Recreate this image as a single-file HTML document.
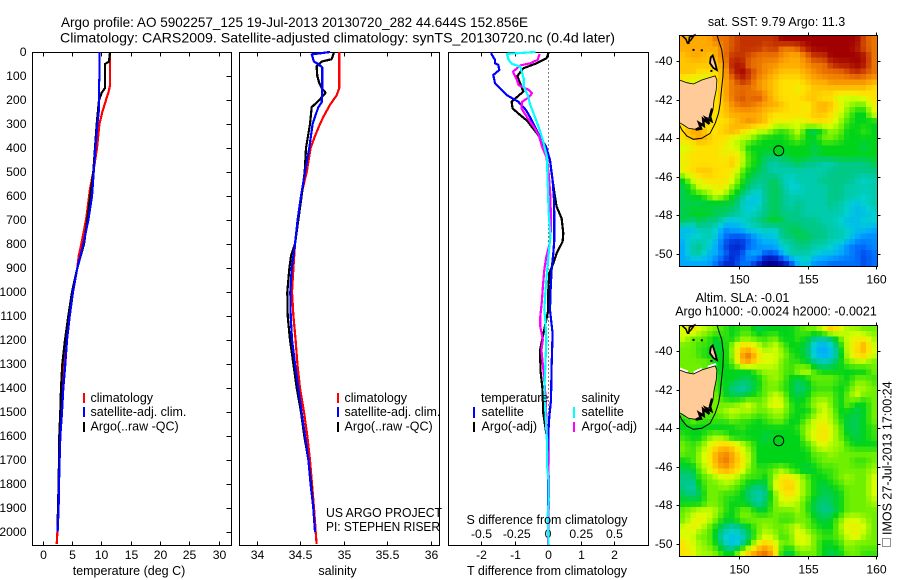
<!DOCTYPE html>
<html>
<head>
<meta charset="utf-8">
<title>Argo profile</title>
<style>
html,body{margin:0;padding:0;background:#fff}
svg{display:block}
text{font-family:"Liberation Sans",Arial,sans-serif;font-size:12.5px;fill:#000}
.t{font-size:14px}
.n{font-size:12.2px}
.c{shape-rendering:crispEdges}
</style>
</head>
<body>
<svg id="fig" xmlns="http://www.w3.org/2000/svg" width="900" height="580" viewBox="0 0 900 580">
<rect x="0" y="0" width="900" height="580" fill="#fff"/>
<text class="t" x="61" y="27" textLength="467" lengthAdjust="spacingAndGlyphs">Argo profile: AO 5902257_125 19-Jul-2013 20130720_282 44.644S 152.856E</text>
<text class="t" x="60" y="42.5" textLength="555" lengthAdjust="spacingAndGlyphs">Climatology: CARS2009. Satellite-adjusted climatology: synTS_20130720.nc (0.4d later)</text>
<g id="heat1"></g>
<g id="heat2"></g>
<g id="land"></g>
<g id="axes"></g>
<g id="lines"></g>
<g>
<text x="90.5" y="402">climatology</text>
<text x="90.5" y="416">satellite-adj. clim.</text>
<text x="90.5" y="430.5">Argo(..raw -QC)</text>
<rect class="c" x="83" y="393" width="2" height="10" fill="#f00"/>
<rect class="c" x="83" y="407" width="2" height="10" fill="#00f"/>
<rect class="c" x="83" y="422" width="2" height="10" fill="#000"/>
</g>
<g>
<text x="344.5" y="402">climatology</text>
<text x="344.5" y="416">satellite-adj. clim.</text>
<text x="344.5" y="430.5">Argo(..raw -QC)</text>
<rect class="c" x="337" y="393" width="2" height="10" fill="#f00"/>
<rect class="c" x="337" y="407" width="2" height="10" fill="#00f"/>
<rect class="c" x="337" y="422" width="2" height="10" fill="#000"/>
<text x="326" y="517" textLength="116" lengthAdjust="spacingAndGlyphs">US ARGO PROJECT</text>
<text x="326" y="531" textLength="114" lengthAdjust="spacingAndGlyphs">PI: STEPHEN RISER</text>
</g>
<g>
<text x="481" y="402">temperature</text>
<text x="481.5" y="416">satellite</text>
<text x="481.5" y="430.5">Argo(-adj)</text>
<text x="581.5" y="402">salinity</text>
<text x="581.5" y="416">satellite</text>
<text x="581.5" y="430.5">Argo(-adj)</text>
<rect class="c" x="473" y="407" width="2" height="11" fill="#00f"/>
<rect class="c" x="473" y="422" width="2" height="10" fill="#000"/>
<rect class="c" x="573" y="407" width="2" height="11" fill="#0ff"/>
<rect class="c" x="573" y="422" width="2" height="10" fill="#f0f"/>
</g>
<text x="129" y="575" text-anchor="middle">temperature (deg C)</text>
<text x="337.5" y="575" text-anchor="middle">salinity</text>
<text x="547" y="575" text-anchor="middle">T difference from climatology</text>
<text x="547" y="524" text-anchor="middle">S difference from climatology</text>
<text x="776.5" y="26" text-anchor="middle">sat. SST: 9.79 Argo: 11.3</text>
<text x="742.5" y="302" text-anchor="middle">Altim. SLA: -0.01</text>
<text x="776" y="315.5" text-anchor="middle">Argo h1000: -0.0024 h2000: -0.0021</text>
<text transform="translate(891.5,535) rotate(-90)">IMOS 27-Jul-2013 17:00:24</text>
<rect x="882.5" y="538.5" width="8" height="8" fill="none" stroke="#222" stroke-dasharray="1 1"/>
</svg>
<script>
// ---------- chart data ----------
const depthTicks = [0,100,200,300,400,500,600,700,800,900,1000,1100,1200,1300,1400,1500,1600,1700,1800,1900,2000];
const tempTicks = [0,5,10,15,20,25,30];
const salTicks = [34,34.5,35,35.5,36];
const salTickLabels = ['34','34.5','35','35.5','36'];
const tDiffTicks = [-2,-1,0,1,2];
const sDiffTickLabels = ['-0.5','-0.25','0','0.25','0.5'];
const sDiffTicks = [-0.5,-0.235,0,0.25,0.5];
const lonTicks = [150,155,160];
const latTicks = [-40,-42,-44,-46,-48,-50];

const climTempDepth = [0,50,100,140,170,200,250,300,400,500,570,650,700,800,850,900,1000,1100,1200,1300,1400,1500,1600,1700,1800,1900,2000,2050];
const climTemp = [11.39,11.39,11.39,11.39,11.1,10.7,10.08,9.57,9.17,8.54,7.97,7.57,7.29,6.49,6.04,5.81,5.01,4.39,3.87,3.42,3.19,2.96,2.85,2.68,2.62,2.51,2.4,2.28];
const argoTempDepth = [0,40,50,100,150,170,200,300,400,500,700,800,900,1000,1100,1200,1300,1400,1500,1600,1700,1800,1900,2000];
const argoTemp = [11.39,11.22,10.54,10.54,10.54,9.97,9.51,9.11,8.83,8.54,7.52,6.95,5.81,4.9,4.27,3.7,3.25,3.02,2.91,2.74,2.68,2.62,2.51,2.4];
const satTempDepth = [0,100,130,240,300,400,500,600,700,800,900,1000,1100,1200,1300,1400,1500,1600,1700,1800,1900,2000];
const satTemp = [9.62,9.62,9.51,9.51,9.23,8.89,8.6,8.32,7.69,6.84,5.81,5.07,4.5,4.05,3.76,3.42,3.19,2.91,2.79,2.68,2.62,2.45];

const climSalDepth = [0,150,180,220,270,300,350,400,500,570,700,800,900,1000,1100,1200,1300,1400,1500,1600,1700,1800,1900,2000,2050];
const climSal = [34.944,34.944,34.914,34.837,34.761,34.722,34.665,34.615,34.57,34.524,34.466,34.436,34.417,34.401,34.417,34.443,34.463,34.493,34.539,34.577,34.608,34.631,34.654,34.673,34.684];
const argoSalDepth = [0,10,30,40,60,100,130,150,170,200,230,300,400,500,600,700,800,850,900,1000,1100,1200,1300,1400,1500,1600,1700,1800,1900,2000];
const argoSal = [34.883,34.875,34.856,34.742,34.684,34.692,34.715,34.742,34.787,34.715,34.627,34.608,34.562,34.547,34.512,34.474,34.436,34.39,34.371,34.348,34.352,34.378,34.417,34.455,34.505,34.543,34.589,34.619,34.646,34.665];
const satSalDepth = [0,10,40,50,65,150,210,230,300,400,500,600,700,800,900,1000,1100,1200,1300,1400,1500,1600,1700,1800,1900,2000];
const satSal = [34.837,34.627,34.654,34.703,34.749,34.749,34.742,34.703,34.638,34.6,34.55,34.505,34.466,34.436,34.398,34.382,34.386,34.401,34.436,34.474,34.512,34.55,34.589,34.615,34.646,34.665];

const argoTDiffDepth = [0,5,26,47,68,100,165,207,235,262,287,311,346,408,450,506,603,644,693,756,790,839,880,922,992,1075,1242,1332,1394,1506,1617,1644,1728,1978,2054];
const argoTDiff = [0,0,-0.05,-0.351,-0.753,-0.934,-0.753,-1.104,-1.074,-0.853,-0.633,-0.502,-0.301,-0.07,0.05,0.1,0.201,0.251,0.402,0.452,0.432,0.251,0.151,0.03,0,0,-0.251,-0.231,-0.181,-0.151,-0.03,0,0,0,0];
const satTDiffDepth = [5,33,47,54,75,96,130,151,179,207,242,283,339,394,450,533,617,700,783,839,908,992,1075,1172,1311,1450,1519,1589,1728,1978,2054];
const satTDiff = [-1.727,-1.606,-1.606,-1.506,-1.476,-1.657,-1.606,-1.456,-1.255,-0.904,-0.673,-0.502,-0.301,-0.07,0.05,0.131,0.171,0.181,0.181,0.151,0.1,0.07,0.05,0.131,0.1,0.08,0.03,0,0,0,0];
const argoSDiffDepth = [8,33,47,56,82,117,138,158,172,189,207,235,276,311,346,394,436,506,603,728,797,853,908,978,1033,1103,1144,1200,1242,1332,1422,1519,1658,1769,1894,2054];
const argoSDiff = [-0.063,-0.078,-0.133,-0.208,-0.263,-0.233,-0.221,-0.145,-0.12,-0.145,-0.195,-0.2,-0.153,-0.108,-0.07,-0.045,-0.013,0.005,0.018,0.023,0.013,-0.013,-0.028,-0.038,-0.045,-0.058,-0.058,-0.038,-0.05,-0.033,-0.02,-0.013,-0.003,0.005,0.005,0];
const satSDiffDepth = [0,8,33,50,61,110,144,179,221,276,332,381,436,533,672,769,839,922,1006,1075,1116,1200,1311,1408,1492,1617,1714,1783,1867,1936,2054];
const satSDiff = [-0.095,-0.308,-0.296,-0.271,-0.208,-0.183,-0.183,-0.153,-0.133,-0.095,-0.058,-0.033,-0.008,-0.003,0.005,0.018,0.005,-0.008,-0.02,-0.028,-0.02,-0.013,-0.02,-0.028,-0.02,-0.008,-0.008,0.003,0.005,-0.003,0.005];

// colour level per cell, top row first, west to east
const sstGrid = [
[10,10,10,10,11,11,11.5,12,12,12,12,12,13,13,13,13,13,13,13,13,13,13,11.5,11],
[10,10,10,10,10,11,11.5,12,12,12,11.5,12,11,11,11.5,12.5,13,13,13,13,13,12.5,11.5,11],
[9.5,10,10,9.5,10,11,12,12,11.5,11,11,11,10.5,10,10,11,12,12,13,13,13,13,12.5,11],
[9.5,9.5,9.5,9.5,9.5,10.5,12.5,12.5,11,11,10.5,10.5,10,10,10,10.5,11,11,12,12.5,12.5,13,12.5,11],
[9.5,9.5,9,9,9,10,12,13,12,11,10.5,10,9.5,9.5,9.5,10,10.5,11,11,11,11.5,12,11.5,11],
[8.5,8,8,8,9,10,11,12,11.5,10.5,10,9.5,9,9,9,9.5,10,10,10.5,10.5,10.5,10.5,10.5,10],
[9,9,9,9,9,10,11,11,11,10.5,10,9.5,9,9,8.5,9,9.5,9.5,9.5,9.5,9.5,9.5,9.5,9],
[9,9,9,9,9,10,11,11.5,11,11.5,10.5,9.5,9,9,9,9.5,9.5,9,9,8,8,8,8.5,9],
[9,9,9,9,9,9.5,10.5,11,11,10.5,10,10,9.5,9,9,8.5,9.5,10,9.5,8.5,7.5,7,7,8.5],
[9,9,9,9,9,9.5,10,10,10,10,9.5,9,9,9,9,9,9.5,9.5,9,8,7,6,6,8],
[9,9,9,9,9,9,9.5,10,10.5,10,9.5,8.5,8.5,8.5,8,8.5,9,9,8.5,7.5,6.5,6,6,6],
[9,10,10,9,9,9.5,10,9.5,8.5,8,8,7,6.5,7,8,6,5.5,6.5,7.5,7,6,6,6.5,6],
[9,9.5,10,9.5,9,9,8,7.5,7.5,6.5,6,6,6,6.5,7,6,6,7,7,6.5,6,6,6,6],
[8,8.5,9,9,9,8.5,8,7.5,6,6,6,6,6,6,6,6,5.5,6,6,6,6,6,5.5,6],
[8.5,9,9,9,9,8.5,9,8,6.5,6,5.5,5.5,5.5,6,6,6,5.5,6,6,6,6,6,6,6],
[8.5,9,9,9,9,9,9.5,8,6.5,6,5,4.5,5,5,5.5,5,5,4.5,4.5,5,5,5,5,5.5],
[8.5,9,9.5,9.5,9,9,8.5,7,6,5.5,5,4.5,4.5,4.5,4.5,4.5,4.5,4.5,5,5,5,5,5,5],
[6,8,8.5,9,9,9,8,6.5,5.5,5,5,5.5,4.5,4,4.5,4.5,4.5,5,5,5,5,4.5,4,4.5],
[5.5,6.5,8,8,8.5,8.5,7,6,5,4.5,5,5.5,5,4,4,4.5,4.5,4.5,5,5,4.5,4.5,4.5,4.5],
[5.5,6,6,7,8,7,6,5,4,3.5,5,5.5,5,4.5,4.5,4.5,4.5,4.5,5,5,4.5,4.5,4,4.5],
[5.5,5.5,5.5,5.5,5.5,5.5,5.5,4.5,3.5,4,5,5.5,5,4.5,5,4.5,4.5,4.5,5,4.5,4,3.5,4,4.5],
[5.5,6,6,6,5.5,5.5,5,4.5,4,4.5,5,5.5,5,5,5,4.5,4.5,4.5,4.5,4.5,4,3.5,3.5,4],
[5.5,5,5.5,5,5,4,3.5,4,4.5,5,5.5,6,5.5,5,5,5,5,4.5,4.5,4,3.5,3.5,4,4],
[3.5,3.5,4.5,4.5,4,2.5,3,3,4,4,4.5,4,5,5.5,5.5,5,5,5,4.5,4.5,4,3.5,3.5,3],
[3.5,4,4,4.5,3.5,2,1.5,1.5,2,3,3.5,3.5,5,5,5.5,5.5,5,5,4.5,4.5,4,3,2.5,2.5],
[3,4.5,5,4,3,1.5,1,1,2,2.5,3,3,4,4.5,5,5,4.5,4.5,4,3.5,2.5,2,2,2.5],
[3,4.5,4.5,3.5,3,2,1,1.5,3,3,1.5,1.5,3,4.5,4.5,4.5,4,3.5,3.5,3,2.5,2,1.5,2],
[3,3,3,3,2,1,1,2,2,1,0,0,0.5,1.5,3.5,4,2.5,2.5,2,2,2,2,1.5,2]
];
const slaGrid = [
[8,9,8,7.5,7,6.5,6,6.5,6.5,5.5,6,6,6,6,6.5,7,7,8,9.5,8.5,7.5,7.5,7,7],
[8,7,7,6.5,6,6.5,6,7,7,6.5,6.5,7,6,6,6.5,6,5,5,5.5,7,8,8.5,8.5,7.5],
[7,7,6.5,6.5,5.5,6,7.5,9,9,8,7,8,7,6,6,5.5,3.5,3,4,6,8,9,10,8],
[7,7,6.5,6,6,6,7.5,10,11,9,8,8,7.5,6.5,6,5.5,3.5,3,3.5,5.5,8,9,9.5,8],
[7,7,7,7,6,6,7,9.5,10,8.5,8,8,7,6.5,6.5,6,5,4.5,5,6,7,7.5,7.5,7],
[7,7,7,6.5,6,6,6,6,6,7,7.5,7.5,7,6.5,7.5,8,6.5,6,6,6,6,6,6,7],
[7,7,7,7,6.5,6,6,5.5,5.5,6,7,7.5,7,6,5.5,6,7,7,7,6.5,6,7,7,6.5],
[7,7,7,7,6.5,6,5,4.5,5,6,7,7,6.5,6,5,5.5,6.5,6.5,6.5,6,6.5,7.5,7.5,7],
[7,7,7,7,7,6,5.5,5.5,6,6.5,7,8,7.5,6,5.5,6,7,7,7,6,7,8,7,7],
[7,7,7,7,7,7,7,7.5,8,7,7.5,8.5,8,6.5,6,6.5,7.5,8,7,6,7,6,6,7],
[7,7,7,7,7,7.5,8,7.5,7.5,7,7,7.5,7.5,6.5,6,6,7,8,7.5,6,6,5.5,6,7],
[6,7,6.5,6.5,6.5,6.5,7,6.5,6.5,6,6.5,7,7,6,6,7,8,8.5,7.5,6.5,5.5,5.5,6,7],
[6,6,6,6,6,6,6,6.5,6,6,6,6,6,6,6.5,7.5,8,9,8,7,5.5,5.5,6,6.5],
[6.5,6,6,7,7.5,7,6,6,6,6,5.5,6,6,6,6,7.5,8.5,9,8,7,6,5.5,6,6.5],
[7,6.5,7,8,9,9.5,9,8,7,6,6,6,6,6,6,6.5,7.5,8.5,7.5,7.5,6.5,6,6,6],
[7,6.5,7.5,8.5,10,10.5,10,8.5,7.5,6,6,6,6,6,6,6,7,7,7.5,7,7,7,7,7],
[6,6.5,7.5,8.5,10,11,10,9,7.5,6,6,6,6,6,6,6,6.5,7,7,7,7,6.5,6.5,7],
[5.5,5.5,7,8,9.5,10,9.5,8.5,7,6.5,6.5,7,7.5,6.5,6,5.5,6,6.5,6.5,7,7,7,7,7.5],
[5,5,6.5,7,7.5,8,8,7,6.5,6.5,6,7.5,9,9,8,7,6,6,6.5,7,7.5,7,7,8],
[5,4.5,6,7,7,7.5,7,6.5,5.5,5,5.5,8,9,9.5,8,7,6,5.5,6,6.5,7,7,7,8],
[5.5,5,5.5,7,7,6.5,6.5,6,5,4.5,5,7,8.5,9,8,7,6,5.5,5.5,6,7,7,7,8],
[6,6,6,7,7,6.5,6,6,5.5,4.5,5.5,7,8,8,7.5,6.5,5.5,5,5.5,6,7,7,7,7.5],
[7,7.5,8,8,7.5,6.5,6,7,7,6,6,7,7,7,7.5,6.5,5.5,5,5,6,7,7,7,7],
[7,8,8.5,8,7,6,6,7,7,7,7,7,6.5,6.5,7,7,6,5.5,6,7,8,8,7.5,7],
[8,8.5,8,7,6,5,4.5,5,6,7,7.5,7,7,7.5,8,7,6.5,6,6,7.5,8.5,8.5,8,7],
[8,8,7,7,5.5,4,3.5,4,5.5,7,8,7.5,6.5,7,8.5,8,7,6.5,6.5,7,8,8.5,7.5,7],
[9,8,7.5,7,6,4.5,3.5,4.5,6.5,8.5,9.5,8.5,7,7,8,8,7,6,6,6.5,7.5,7,7,7],
[9,8.5,7.5,7.5,7,6,6,8,9.5,10.5,11,9.5,6,5.5,7,7,7,6,5.5,6,7,7,6.5,6.5]
];

// map geometry in degrees
const tasLon = [145.63,146.16,146.65,147.25,148.23,148.35,148.3,148.15,148.06,147.91,147.6,147.3,146.77,146.28,145.92,145.63];
const tasLat = [-40.97,-41.11,-41.18,-40.97,-40.76,-40.97,-41.49,-42.01,-42.53,-42.91,-42.95,-43.3,-43.53,-43.48,-43.31,-43.19];
const flindersLon = [147.9,148.05,148.25,148.35,148.1,147.85];
const flindersLat = [-39.8,-39.7,-40.15,-40.45,-40.35,-40.1];
const shelfLon = [148.35,148.54,148.71,148.83,148.79,148.66,148.59,148.47,148.23,147.86,147.25,146.65,146.16,145.8,145.63];
const shelfLat = [-38.63,-39.06,-39.41,-40.1,-40.8,-41.66,-42.18,-42.7,-43.22,-43.74,-44,-44.05,-43.88,-43.57,-43.31];
const seCoastLon = [148.0,147.85,147.95,147.55,147.8,147.35,147.4,147.05,147.2,146.8];
const seCoastLat = [-42.45,-42.85,-43.1,-42.95,-43.25,-43.0,-43.35,-43.2,-43.5,-43.55];
const victoriaLon = [145.8,146.1,146.2,146.45,146.7,146.35,146.3];
const victoriaLat = [-38.65,-38.85,-39.05,-38.9,-38.65,-38.75,-39.1];
const isletLon = [146.65,147.25,147.95];
const isletLat = [-39.41,-39.43,-40.5];
const profileLon = 152.856;
const profileLat = -44.644;

// ---------- axis functions ----------
const yDepth = d => 52 + 0.24 * d;
const xTemp = v => 43.3 + 5.857 * v;
const xSal = v => 257 + 87.2 * (v - 34);
const xTDiff = v => 548.3 + 33.2 * v;
const xSDiff = v => 548 + 133 * v;
const xLon = v => 739.5 + (v - 150) * 13.72;
const yLat1 = v => 61.3 + (-40 - v) * 19.25;
const yLat2 = v => 351.3 + (-40 - v) * 19.25;

const NS = 'http://www.w3.org/2000/svg';
function make(tag, parent, name, interactable) {
  const el = document.createElementNS(NS, tag);
  
  
  parent.appendChild(el);
  return el;
}
function tickLine(parent, x1, y1, x2, y2, name) {
  const el = make('line', parent, name, false);
  el.setAttribute('x1', x1); el.setAttribute('y1', y1);
  el.setAttribute('x2', x2); el.setAttribute('y2', y2);
  el.setAttribute('stroke', '#000'); el.setAttribute('class', 'c');
  return el;
}
function label(parent, x, y, str, anchor, name) {
  const el = make('text', parent, name, false);
  el.setAttribute('x', x); el.setAttribute('y', y);
  el.setAttribute('text-anchor', anchor); el.setAttribute('class', 'n');
  el.textContent = str;
  return el;
}
function frame(parent, x, y, w, h, name) {
  const el = make('rect', parent, name, false);
  el.setAttribute('x', x); el.setAttribute('y', y);
  el.setAttribute('width', w); el.setAttribute('height', h);
  el.setAttribute('fill', 'none'); el.setAttribute('stroke', '#000');
  el.setAttribute('class', 'c');
  return el;
}
function series(depths, values, xFn, color, name) {
  const el = make('polyline', document.getElementById('lines'), name, false);
  el.setAttribute('points', depths.map((d, i) => xFn(values[i]).toFixed(1) + ',' + yDepth(d).toFixed(1)).join(' '));
  el.setAttribute('fill', 'none');
  el.setAttribute('stroke', color);
  el.setAttribute('stroke-width', '2.2');
  el.setAttribute('stroke-linejoin', 'round');
  el.setAttribute('class', 'c');
  return el;
}

// ---------- colormap ----------
const levelColors = [[0,0,143],[0,40,210],[0,110,255],[0,170,255],[0,208,210],[0,200,135],[0,212,25],[110,240,0],[215,255,0],[255,225,0],[255,170,0],[235,115,0],[195,50,0],[160,0,0]];
function levelColor(v) {
  const c = Math.max(0, Math.min(levelColors.length - 1.001, v));
  const i = Math.floor(c), f = c - i;
  const a = levelColors[i], b = levelColors[i + 1];
  return 'rgb(' + [0, 1, 2].map(k => Math.round(a[k] + (b[k] - a[k]) * f)).join(',') + ')';
}

// ---------- heatmaps (grid values resampled bilinearly to the display cell size) ----------
function sampleGrid(grid, u, v) {
  const rows = grid.length, cols = grid[0].length;
  const fx = Math.max(0, Math.min(cols - 1, u));
  const fy = Math.max(0, Math.min(rows - 1, v));
  const x0 = Math.floor(fx), y0 = Math.floor(fy);
  const x1 = Math.min(cols - 1, x0 + 1), y1 = Math.min(rows - 1, y0 + 1);
  const tx = fx - x0, ty = fy - y0;
  return (grid[y0][x0] * (1 - tx) + grid[y0][x1] * tx) * (1 - ty) + (grid[y1][x0] * (1 - tx) + grid[y1][x1] * tx) * ty;
}
function heat(id, grid, left, top, width, height, name) {
  const g = document.getElementById(id);
  const rows = grid.length, cols = grid[0].length;
  const nx = 36, ny = 42;
  const cw = width / nx, ch = height / ny;
  for (let r = 0; r < ny; r++) {
    for (let c = 0; c < nx; c++) {
      const value = sampleGrid(grid, (c + 0.5) / nx * cols - 0.5, (r + 0.5) / ny * rows - 0.5);
      const el = make('rect', g, name, false);
      el.setAttribute('x', (left + c * cw).toFixed(2));
      el.setAttribute('y', (top + r * ch).toFixed(2));
      el.setAttribute('width', (cw + 0.6).toFixed(2));
      el.setAttribute('height', (ch + 0.6).toFixed(2));
      el.setAttribute('fill', levelColor(value));
      el.setAttribute('class', 'c');
    }
  }
}
heat('heat1', sstGrid, 679.5, 35.5, 197.5, 231, 'sst-cell');
heat('heat2', slaGrid, 679.5, 325.5, 197.5, 231, 'sla-cell');

// ---------- map overlays ----------
const land = document.getElementById('land');
function geoPoints(lons, lats, yFn) {
  return lons.map((v, i) => xLon(v).toFixed(1) + ',' + yFn(lats[i]).toFixed(1)).join(' ');
}
[yLat1, yLat2].forEach((yFn, m) => {
  const prefix = m === 0 ? 'sst' : 'sla';
  if (m === 1) {
    const edge = make('polyline', land, 'sla-no-data-coast', false);
    edge.setAttribute('points', tasLon.slice(0, 6).map((v, i) => xLon(v).toFixed(1) + ',' + (yFn(tasLat[i]) - 1.5).toFixed(1)).join(' '));
    edge.setAttribute('fill', 'none'); edge.setAttribute('stroke', '#fff'); edge.setAttribute('stroke-width', '2');
    edge.setAttribute('stroke-dasharray', '9 6');
  }
  const tas = make('polygon', land, prefix + '-tasmania-land', false);
  tas.setAttribute('points', geoPoints(tasLon, tasLat, yFn));
  tas.setAttribute('fill', '#ffcc99'); tas.setAttribute('stroke', '#000'); tas.setAttribute('stroke-width', '0.8');
  const fl = make('polygon', land, prefix + '-flinders-island', false);
  fl.setAttribute('points', geoPoints(flindersLon, flindersLat, yFn));
  fl.setAttribute('fill', '#ffcc99'); fl.setAttribute('stroke', '#000'); fl.setAttribute('stroke-width', '1.8');
  const shelf = make('polyline', land, prefix + '-shelf-contour', false);
  shelf.setAttribute('points', geoPoints(shelfLon, shelfLat, yFn));
  shelf.setAttribute('fill', 'none'); shelf.setAttribute('stroke', '#000'); shelf.setAttribute('stroke-width', '1');
  const se = make('polyline', land, prefix + '-se-coast-islands', false);
  se.setAttribute('points', geoPoints(seCoastLon, seCoastLat, yFn));
  se.setAttribute('fill', 'none'); se.setAttribute('stroke', '#000'); se.setAttribute('stroke-width', '2.4');
  const vic = make('polyline', land, prefix + '-victoria-coast', false);
  vic.setAttribute('points', geoPoints(victoriaLon, victoriaLat, yFn));
  vic.setAttribute('fill', 'none'); vic.setAttribute('stroke', '#000'); vic.setAttribute('stroke-width', '1.5');
  isletLon.forEach((v, i) => {
    const islet = make('rect', land, prefix + '-islet', false);
    islet.setAttribute('x', (xLon(v) - 1).toFixed(1));
    islet.setAttribute('y', (yFn(isletLat[i]) - 1).toFixed(1));
    islet.setAttribute('width', '2');
    islet.setAttribute('height', '2');
    islet.setAttribute('fill', '#000');
  });
  const mark = make('circle', land, prefix + '-profile-location', false);
  mark.setAttribute('cx', xLon(profileLon).toFixed(1));
  mark.setAttribute('cy', yFn(profileLat).toFixed(1));
  mark.setAttribute('r', '5');
  mark.setAttribute('fill', m === 0 ? levelColor(6) : 'none');
  mark.setAttribute('stroke', '#000');
});

// ---------- axes ----------
const axes = document.getElementById('axes');
const TOP = 52.5, BOTTOM = 545.5;
frame(axes, 32.5, TOP, 199, BOTTOM - TOP, 'temperature-panel-frame');
frame(axes, 239.5, TOP, 200, BOTTOM - TOP, 'salinity-panel-frame');
frame(axes, 448.5, TOP, 200, BOTTOM - TOP, 'difference-panel-frame');
frame(axes, 679.5, 35.5, 198, 231, 'sst-map-frame');
frame(axes, 679.5, 325.5, 198, 231, 'sla-map-frame');

depthTicks.forEach(d => {
  const y = Math.round(yDepth(d)) + 0.5;
  tickLine(axes, 226.5, y, 231.5, y, 'depth-tick-right');
  label(axes, 26.5, y + 3.7, String(d), 'end', 'depth-tick-label');
});
function xTicks(ticks, labels, xFn, name) {
  ticks.forEach((t, i) => {
    const x = Math.floor(xFn(t)) + 0.5;
    tickLine(axes, x, TOP, x, TOP + 4, name + '-tick-top');
    tickLine(axes, x, BOTTOM - 4, x, BOTTOM, name + '-tick-bottom');
    label(axes, x, 559, labels[i], 'middle', name + '-tick-label');
  });
}
xTicks(tempTicks, tempTicks.map(String), xTemp, 'temperature');
xTicks(salTicks, salTickLabels, xSal, 'salinity');
xTicks(tDiffTicks, tDiffTicks.map(String), xTDiff, 't-difference');
sDiffTicks.forEach((t, i) => {
  label(axes, xSDiff(t), 538, sDiffTickLabels[i], 'middle', 's-difference-tick-label');
});

const zero = make('line', axes, 'zero-difference-line', false);
zero.setAttribute('x1', '548.5'); zero.setAttribute('x2', '548.5');
zero.setAttribute('y1', TOP); zero.setAttribute('y2', BOTTOM);
zero.setAttribute('stroke', '#000'); zero.setAttribute('stroke-dasharray', '1 3');

function mapTicks(yFn, top, bottom, name) {
  lonTicks.forEach(v => {
    const x = Math.floor(xLon(v)) + 0.5;
    tickLine(axes, x, top - 3, x, top, name + '-lon-tick-top');
    tickLine(axes, x, bottom, x, bottom + 3, name + '-lon-tick-bottom');
    label(axes, x, bottom + 17, String(v), 'middle', name + '-lon-tick-label');
  });
  latTicks.forEach(v => {
    const y = Math.round(yFn(v)) + 0.5;
    tickLine(axes, 676.5, y, 679.5, y, name + '-lat-tick-left');
    tickLine(axes, 877.5, y, 880.5, y, name + '-lat-tick-right');
    label(axes, 672.5, y + 3.7, String(v), 'end', name + '-lat-tick-label');
  });
}
mapTicks(yLat1, 35.5, 266.5, 'sst');
mapTicks(yLat2, 325.5, 556.5, 'sla');

// ---------- series ----------
series(climTempDepth, climTemp, xTemp, '#f00', 'temperature-climatology-line');
series(argoTempDepth, argoTemp, xTemp, '#000', 'temperature-argo-line');
series(satTempDepth, satTemp, xTemp, '#00f', 'temperature-satellite-line');
series(climSalDepth, climSal, xSal, '#f00', 'salinity-climatology-line');
series(argoSalDepth, argoSal, xSal, '#000', 'salinity-argo-line');
series(satSalDepth, satSal, xSal, '#00f', 'salinity-satellite-line');
series(argoTDiffDepth, argoTDiff, xTDiff, '#000', 't-difference-argo-line');
series(satTDiffDepth, satTDiff, xTDiff, '#00f', 't-difference-satellite-line');
series(argoSDiffDepth, argoSDiff, xSDiff, '#f0f', 's-difference-argo-line');
series(satSDiffDepth, satSDiff, xSDiff, '#0ff', 's-difference-satellite-line');
</script>
</body>
</html>
